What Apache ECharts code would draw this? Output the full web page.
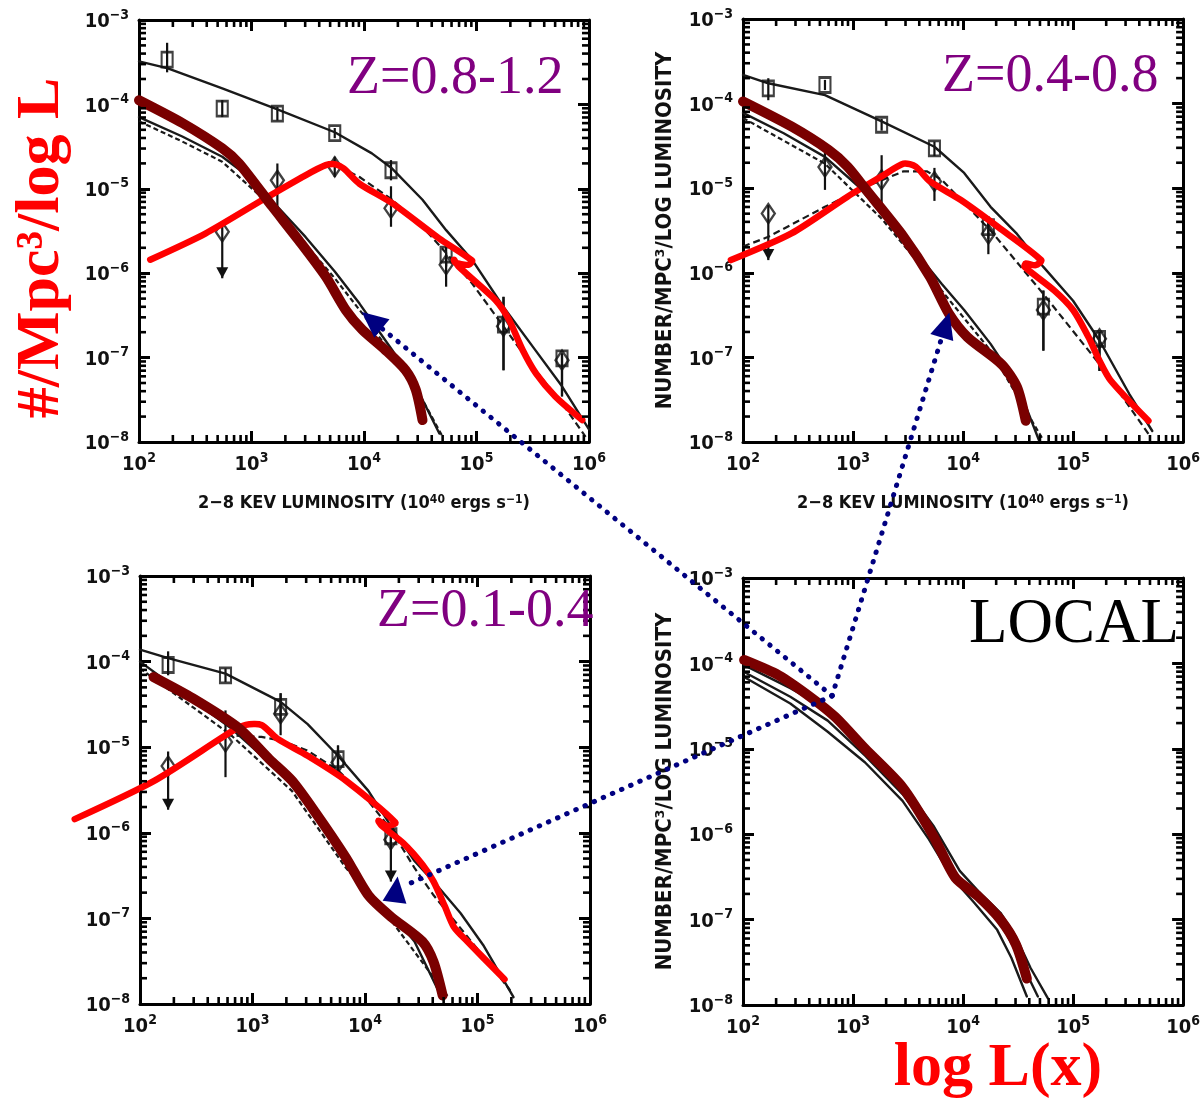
<!DOCTYPE html>
<html><head><meta charset="utf-8">
<script src="https://cdn.jsdelivr.net/npm/echarts@6/dist/echarts.min.js"></script>
<style>html,body{margin:0;padding:0;background:#fff}#c{width:1203px;height:1109px}</style>
</head><body><div id="c"></div><script>
// All values below are log10 of the plotted quantities (x: L in 1e40 erg/s, y: number/Mpc^3/log L)
const X_TICKS = [2, 3, 4, 5, 6];
const Y_TICKS = [-8, -7, -6, -5, -4, -3];
const PANEL_LABELS = ['Z=0.8-1.2', 'Z=0.4-0.8', 'Z=0.1-0.4', 'LOCAL'];
const X_NAME = '2\u22128 KEV LUMINOSITY (10{sup|40} ergs s{sup|\u22121})';
const Y_NAME = 'NUMBER/MPC\u00b3/LOG LUMINOSITY';

// ---- Panel 1 (z = 0.8-1.2) ----
const P1_UPPER = [[2.00,-3.49],[2.25,-3.57],[2.74,-3.81],[3.23,-4.06],[3.74,-4.33],[4.07,-4.58],[4.25,-4.76],[4.52,-5.13],[4.73,-5.49],[4.96,-5.84],[5.24,-6.40],[5.50,-6.87],[5.76,-7.34],[6.00,-7.85]];
const P1_LOWER = [[2.00,-4.15],[2.385,-4.38],[2.74,-4.62],[2.98,-4.86],[3.23,-5.21],[3.48,-5.57],[3.74,-5.98],[3.96,-6.36],[4.25,-6.91],[4.46,-7.34],[4.67,-7.90]];
const P1_LOWER2 = [[2.00,-4.20],[2.385,-4.44],[2.74,-4.68],[3.23,-5.27],[3.74,-6.06],[4.01,-6.52],[4.25,-6.97],[4.52,-7.50],[4.70,-7.94]];
const P1_DASH = [[3.78,-4.74],[3.96,-4.86],[4.25,-5.13],[4.52,-5.45],[4.73,-5.76],[4.96,-6.12],[5.24,-6.63],[5.50,-7.11],[5.76,-7.54],[5.97,-7.94]];
const P1_THICK = [[2.00,-3.95],[2.385,-4.22],[2.74,-4.52],[2.89,-4.70],[3.185,-5.21],[3.42,-5.61],[3.66,-6.04],[3.84,-6.44],[3.985,-6.67],[4.19,-6.91],[4.37,-7.15],[4.46,-7.38],[4.52,-7.74]];
const P1_RED = [[2.10,-5.84],[2.59,-5.53],[3.10,-5.13],[3.48,-4.84],[3.66,-4.72],[3.75,-4.71],[3.82,-4.76],[3.96,-4.94],[4.25,-5.17],[4.67,-5.59],[4.96,-5.85],[4.93,-5.90],[4.81,-5.875],[4.80,-5.84],[4.84,-5.92],[5.17,-6.32],[5.29,-6.555],[5.41,-6.91],[5.53,-7.19],[5.70,-7.46],[5.94,-7.74]];
// [x, y, errLow, errHigh, upperLimit]
const P1_SQ = [[2.25,-3.47,-3.62,-3.27,0],[2.74,-4.05,-4.15,-3.95,0],[3.23,-4.11,-4.19,-4.03,0],[3.74,-4.34,-4.40,-4.28,0],[4.24,-4.78,-4.90,-4.66,0],[4.73,-5.78,-5.92,-5.66,0],[5.24,-6.61,-7.15,-6.28,0],[5.76,-7.01,-7.46,-6.95,0]];
const P1_DM = [[2.74,-5.51,-6.06,-5.40,1],[3.23,-4.90,-5.21,-4.70,0],[3.74,-4.74,-4.86,-4.62,0],[4.24,-5.23,-5.45,-4.97,0],[4.73,-5.90,-6.16,-5.76,0],[5.24,-6.63,-7.15,-6.28,0],[5.76,-7.03,-7.46,-6.95,0]];

// ---- Panel 2 (z = 0.4-0.8) ----
const P2_UPPER = [[2.00,-3.66],[2.23,-3.76],[2.745,-3.90],[3.26,-4.21],[3.74,-4.51],[4.01,-4.82],[4.25,-5.22],[4.49,-5.54],[4.73,-5.93],[5.00,-6.33],[5.24,-6.80],[5.51,-7.43],[5.72,-7.87]];
const P2_LOWER = [[2.00,-4.11],[2.37,-4.35],[2.745,-4.63],[3.05,-4.98],[3.26,-5.30],[3.53,-5.69],[3.805,-6.13],[4.01,-6.44],[4.25,-6.84],[4.49,-7.31],[4.69,-7.98]];
const P2_LOWER2 = [[2.00,-4.17],[2.745,-4.71],[3.26,-5.36],[3.805,-6.21],[4.25,-6.92],[4.73,-7.98]];
const P2_DASH = [[2.00,-5.69],[2.23,-5.575],[2.745,-5.22],[3.12,-4.98],[3.46,-4.80],[3.67,-4.80],[3.805,-4.90],[4.25,-5.50],[4.73,-6.25],[5.24,-7.08],[5.685,-7.905]];
const P2_THICK = [[2.00,-3.975],[2.44,-4.27],[2.78,-4.55],[2.95,-4.745],[3.12,-5.02],[3.46,-5.575],[3.70,-6.05],[3.87,-6.48],[4.04,-6.76],[4.35,-7.08],[4.49,-7.35],[4.57,-7.75]];
const P2_RED = [[1.89,-5.85],[2.44,-5.535],[2.95,-5.10],[3.26,-4.86],[3.46,-4.71],[3.57,-4.745],[3.70,-4.92],[3.98,-5.14],[4.32,-5.46],[4.71,-5.85],[4.66,-5.91],[4.57,-5.89],[4.56,-5.93],[4.83,-6.21],[5.00,-6.44],[5.14,-6.76],[5.24,-7.04],[5.34,-7.27],[5.685,-7.75]];
const P2_SQ = [[2.23,-3.82,-3.96,-3.70,0],[2.745,-3.78,-3.84,-3.72,0],[3.26,-4.25,-4.32,-4.18,0],[3.74,-4.53,-4.62,-4.45,0],[4.23,-5.46,-5.60,-5.33,0],[4.73,-6.40,-6.92,-6.21,0],[5.24,-6.78,-7.16,-6.70,0]];
const P2_DM = [[2.23,-5.30,-5.85,-5.20,1],[2.745,-4.75,-5.02,-4.55,0],[3.26,-4.90,-5.22,-4.61,0],[3.74,-4.92,-5.15,-4.76,0],[4.23,-5.54,-5.78,-5.35,0],[4.73,-6.44,-6.92,-6.21,0],[5.24,-6.78,-7.16,-6.70,0]];

// ---- Panel 3 (z = 0.1-0.4) ----
const P3_UPPER = [[2.00,-3.86],[2.25,-3.96],[2.76,-4.14],[3.25,-4.47],[3.49,-4.73],[3.76,-5.10],[4.03,-5.51],[4.23,-5.92],[4.44,-6.33],[4.61,-6.57],[4.85,-6.94],[5.05,-7.31],[5.32,-7.92]];
const P3_LOWER = [[2.00,-4.00],[2.30,-4.29],[2.81,-4.78],[3.15,-5.18],[3.35,-5.43],[3.66,-5.96],[3.83,-6.33],[4.03,-6.69],[4.23,-6.94],[4.44,-7.27],[4.68,-7.92]];
const P3_LOWER2 = [[2.00,-4.08],[2.81,-4.86],[3.35,-5.51],[3.83,-6.41],[4.23,-7.02],[4.74,-7.92]];
const P3_DASH = [[2.76,-4.86],[3.08,-4.88],[3.25,-4.92],[3.49,-5.04],[3.76,-5.27],[4.03,-5.63],[4.23,-5.96],[4.44,-6.41],[4.61,-6.73],[5.02,-7.39],[5.29,-7.84]];
const P3_THICK = [[2.12,-4.18],[2.47,-4.43],[2.88,-4.78],[3.15,-5.14],[3.35,-5.39],[3.555,-5.755],[3.83,-6.29],[4.03,-6.73],[4.23,-6.98],[4.51,-7.27],[4.61,-7.51],[4.69,-7.90]];
const P3_RED = [[1.42,-5.84],[2.13,-5.39],[2.81,-4.82],[2.94,-4.74],[3.08,-4.74],[3.22,-4.90],[3.49,-5.10],[3.83,-5.39],[4.27,-5.88],[4.20,-5.92],[4.12,-5.86],[4.15,-5.92],[4.34,-6.12],[4.51,-6.37],[4.61,-6.57],[4.71,-6.86],[4.79,-7.10],[4.91,-7.27],[5.24,-7.71]];
const P3_SQ = [[2.25,-4.04,-4.16,-3.88,0],[2.76,-4.16,-4.24,-4.08,0],[3.25,-4.53,-4.70,-4.37,0],[3.76,-5.14,-5.35,-4.98,0],[4.23,-6.04,-6.20,-5.90,0]];
const P3_DM = [[2.25,-5.22,-5.73,-5.05,1],[2.76,-4.94,-5.35,-4.57,0],[3.25,-4.61,-4.86,-4.37,0],[3.76,-5.18,-5.35,-4.98,0],[4.23,-6.08,-6.57,-5.95,1]];

// ---- Panel 4 (local) ----
const P4_A = [[2.01,-4.02],[2.43,-4.29],[2.84,-4.59],[3.11,-4.96],[3.45,-5.41],[3.73,-5.90],[3.97,-6.43],[4.14,-6.67],[4.34,-6.92],[4.48,-7.20],[4.615,-7.57],[4.77,-7.92]];
const P4_B = [[2.01,-4.10],[2.43,-4.39],[2.77,-4.67],[3.11,-5.08],[3.45,-5.53],[3.73,-6.02],[3.93,-6.47],[4.14,-6.76],[4.34,-7.04],[4.48,-7.37],[4.68,-7.90]];
const P4_C = [[2.01,-4.16],[2.43,-4.47],[2.77,-4.80],[3.11,-5.16],[3.45,-5.61],[3.69,-6.06],[3.90,-6.51],[4.10,-6.80],[4.31,-7.12],[4.44,-7.45],[4.58,-7.90]];
const P4_THICK = [[2.01,-3.96],[2.325,-4.14],[2.63,-4.41],[2.84,-4.63],[3.11,-5.00],[3.45,-5.45],[3.73,-6.02],[3.93,-6.51],[4.14,-6.73],[4.34,-7.00],[4.48,-7.29],[4.58,-7.69]];

// ---- Arrow annotations (data coords of the panel they touch) ----
const ARROW_HUB = [2.81, -4.38];          // in panel 4
const ARROW_TIPS = [[0, 3.98, -6.46], [1, 3.876, -6.47], [2, 4.29, -6.51]]; // [panel, x, y]
const ARROW_HEAD_DIRS = [null, null, [0.12, -1]]; // head orientation if not along the line

const GRIDS = [
  {left: 139, top: 20, width: 450, height: 422},
  {left: 743, top: 19, width: 450, height: 423},
  {left: 140, top: 576, width: 450, height: 428},
  {left: 743, top: 578, width: 452, height: 427}
];

const FONT = "'DejaVu Sans Condensed','DejaVu Sans',sans-serif";
const SERIF = "'Liberation Serif','DejaVu Serif',serif";
const XMIN = X_TICKS[0], XMAX = X_TICKS[X_TICKS.length - 1];
const YMIN = Y_TICKS[0], YMAX = Y_TICKS[Y_TICKS.length - 1];
function minorVals(a, b) { const out = []; for (let n = a; n < b; n++) for (let k = 2; k <= 9; k++) out.push(n + Math.log10(k)); return out; }
const XMINOR = minorVals(XMIN, XMAX);
const YMINOR = minorVals(YMIN, YMAX);
const RICH = {
  b: {fontSize: 20, fontFamily: FONT, fontWeight: 'bold', color: '#111', lineHeight: 24, verticalAlign: 'bottom'},
  s: {fontSize: 14, fontFamily: FONT, fontWeight: 'bold', color: '#111', lineHeight: 14, verticalAlign: 'top'}
};
const sup = v => (v < 0 ? '\u2212' + (-v) : '' + v);

const xAxes = [], yAxes = [];
GRIDS.forEach((gr, g) => {
  const xb = {type: 'value', gridIndex: g, min: XMIN, max: XMAX, interval: 1, splitLine: {show: false}};
  const yb = {type: 'value', gridIndex: g, min: YMIN, max: YMAX, interval: 1, splitLine: {show: false}};
  const line = {show: true, onZero: false, lineStyle: {color: '#000', width: 3}};
  const majT = {show: true, inside: true, length: 11, lineStyle: {color: '#000', width: 3}};
  xAxes.push(Object.assign({}, xb, {position: 'bottom', axisLine: line, axisTick: majT,
    axisLabel: {margin: 9, formatter: v => '{b|10}{s|' + sup(v) + '}', rich: RICH},
    name: g < 2 ? X_NAME : '', nameLocation: 'middle', nameGap: 52,
    nameTextStyle: {fontSize: 18, fontWeight: 'bold', fontFamily: FONT, color: '#111',
      rich: {sup: {fontSize: 12, fontWeight: 'bold', fontFamily: FONT, color: '#111', verticalAlign: 'top', lineHeight: 12}}}}));
  xAxes.push(Object.assign({}, xb, {position: 'top', axisLine: line, axisTick: majT, axisLabel: {show: false}}));
  yAxes.push(Object.assign({}, yb, {position: 'left', axisLine: line, axisTick: majT,
    axisLabel: {margin: 10, formatter: v => '{b|10}{s|' + sup(v) + '}', rich: RICH},
    name: (g === 1 || g === 3) ? Y_NAME : '', nameLocation: 'middle', nameRotate: 90, nameGap: 67,
    nameTextStyle: {fontSize: 22, fontWeight: 'bold', fontFamily: FONT, color: '#111'}}));
  yAxes.push(Object.assign({}, yb, {position: 'right', axisLine: line, axisTick: majT, axisLabel: {show: false}}));
});

const series = [];
const AX = g => ({xAxisIndex: 2 * g, yAxisIndex: 2 * g});
function addLine(g, data, color, width, opts) {
  series.push(Object.assign({type: 'line', data: data, symbol: 'none', showSymbol: false, silent: true,
    lineStyle: {color: color, width: width, cap: 'round', join: 'round'}}, AX(g), opts || {}));
}
// polyline drawn through the axes' scale, allowed to run past the frame (as in the original)
function addFreeLine(g, data, color, width, z) {
  series.push(Object.assign({type: 'custom', silent: true, z: z, clip: false, data: data, encode: {x: 0, y: 1},
    renderItem: (params, api) => {
      if (params.dataIndex !== 0) return null;
      const pts = data.map(p => api.coord(p));
      return {type: 'polyline', shape: {points: pts, smooth: 0.25},
        style: {stroke: color, lineWidth: width, fill: null, lineCap: 'round', lineJoin: 'round'}};
    }}, AX(g)));
}
function addMarkers(g, arr, symbol, size) {
  series.push(Object.assign({type: 'custom', silent: true, z: 3,
    data: arr.map(d => [d[0], d[2], d[3], d[4]]), encode: {x: 0, y: [1, 2]},
    renderItem: (params, api) => {
      const x = api.value(0), lo = api.value(1), hi = api.value(2), lim = api.value(3);
      const a = api.coord([x, hi]), b = api.coord([x, lo]);
      const ch = [{type: 'line', shape: {x1: a[0], y1: a[1], x2: b[0], y2: b[1]}, style: {stroke: '#111', lineWidth: 2.2}}];
      if (lim) ch.push({type: 'polygon', shape: {points: [[b[0] - 6, b[1] - 11], [b[0] + 6, b[1] - 11], [b[0], b[1]]]}, style: {fill: '#111'}});
      return {type: 'group', children: ch};
    }}, AX(g)));
  series.push(Object.assign({type: 'scatter', silent: true, z: 4,
    data: arr.map(d => [d[0], d[1]]), symbol: symbol, symbolSize: size,
    itemStyle: {color: 'rgba(0,0,0,0)', borderColor: '#111', borderWidth: 2.4}}, AX(g)));
}
// minor log ticks (2..9 of each decade) on all four sides of a frame, drawn through the axes
function addMinorTicks(g) {
  const len = 7, w = 2.6;
  series.push(Object.assign({type: 'custom', silent: true, z: 10, clip: false,
    data: XMINOR.map(v => [v, YMIN]), encode: {x: 0, y: 1},
    renderItem: (params, api) => {
      const v = api.value(0), a = api.coord([v, YMIN]), b = api.coord([v, YMAX]);
      return {type: 'group', children: [
        {type: 'rect', shape: {x: a[0] - w / 2, y: a[1] - len, width: w, height: len}, style: {fill: '#000'}},
        {type: 'rect', shape: {x: b[0] - w / 2, y: b[1], width: w, height: len}, style: {fill: '#000'}}]};
    }}, AX(g)));
  series.push(Object.assign({type: 'custom', silent: true, z: 10, clip: false,
    data: YMINOR.map(v => [XMIN, v]), encode: {x: 0, y: 1},
    renderItem: (params, api) => {
      const v = api.value(1), a = api.coord([XMIN, v]), b = api.coord([XMAX, v]);
      return {type: 'group', children: [
        {type: 'rect', shape: {x: a[0], y: a[1] - w / 2, width: len, height: w}, style: {fill: '#000'}},
        {type: 'rect', shape: {x: b[0] - len, y: b[1] - w / 2, width: len, height: w}, style: {fill: '#000'}}]};
    }}, AX(g)));
}

const DARK = '#7a0000', RED = '#ff0000', INK = '#1a1a1a';
const PANELS = [
  {upper: P1_UPPER, lower: P1_LOWER, lower2: P1_LOWER2, dash: P1_DASH, thick: P1_THICK, red: P1_RED, sq: P1_SQ, dm: P1_DM},
  {upper: P2_UPPER, lower: P2_LOWER, lower2: P2_LOWER2, dash: P2_DASH, thick: P2_THICK, red: P2_RED, sq: P2_SQ, dm: P2_DM},
  {upper: P3_UPPER, lower: P3_LOWER, lower2: P3_LOWER2, dash: P3_DASH, thick: P3_THICK, red: P3_RED, sq: P3_SQ, dm: P3_DM}
];
GRIDS.forEach((gr, g) => addMinorTicks(g));
PANELS.forEach((p, g) => {
  addLine(g, p.upper, INK, 2.4);
  addLine(g, p.lower, INK, 2.4);
  addLine(g, p.lower2, INK, 2.2, {lineStyle: {color: INK, width: 2.2, type: [5, 3]}});
  addLine(g, p.dash, INK, 2.2, {lineStyle: {color: INK, width: 2.2, type: [7, 4]}});
  addMarkers(g, p.sq, 'rect', [11, 15]);
  addMarkers(g, p.dm, 'diamond', [13, 19]);
  addFreeLine(g, p.red, RED, 6.5, 5);
  addFreeLine(g, p.thick, DARK, 10, 6);
});
addLine(3, P4_A, INK, 2.4);
addLine(3, P4_B, INK, 2.4);
addLine(3, P4_C, INK, 2.4);
addFreeLine(3, P4_THICK, DARK, 10, 6);

const chart = echarts.init(document.getElementById('c'), null, {renderer: 'canvas', width: 1203, height: 1109});
chart.setOption({
  backgroundColor: '#fff', animation: false,
  grid: GRIDS.map(g => Object.assign({containLabel: false}, g)),
  xAxis: xAxes, yAxis: yAxes, series: series
});

// annotations
const graphics = [];
function txt(text, x, y, font, fill, align, rot) {
  graphics.push({type: 'text', x: x, y: y, rotation: rot || 0, z: 20, silent: true,
    style: {text: text, font: font, fill: fill, align: align || 'left', verticalAlign: 'middle', textAlign: align || 'left', textVerticalAlign: 'middle'}});
}
txt(PANEL_LABELS[0], 347, 79, '54px ' + SERIF, '#800080');
txt(PANEL_LABELS[1], 942, 77, '54px ' + SERIF, '#800080');
txt(PANEL_LABELS[2], 377, 612, '54px ' + SERIF, '#800080');
txt(PANEL_LABELS[3], 969, 625, '63px ' + SERIF, '#000');
txt('#/Mpc\u00b3/log L', 42, 248, 'bold 62px ' + SERIF, '#ff0000', 'center', Math.PI / 2);
txt('log L(x)', 998, 1069, 'bold 62px ' + SERIF, '#ff0000', 'center');

const hub = chart.convertToPixel({xAxisIndex: 6, yAxisIndex: 6}, ARROW_HUB);
ARROW_TIPS.forEach((t, i) => {
  const tip = chart.convertToPixel({xAxisIndex: 2 * t[0], yAxisIndex: 2 * t[0]}, [t[1], t[2]]);
  const dx = tip[0] - hub[0], dy = tip[1] - hub[1], L = Math.hypot(dx, dy);
  let ux = dx / L, uy = dy / L;
  const hl = 26, hw = 12;
  const hd = ARROW_HEAD_DIRS[i];
  const end = hd ? [tip[0] + 10, tip[1] + 8] : [tip[0] - ux * hl, tip[1] - uy * hl];
  graphics.push({type: 'polyline', z: 18, silent: true, shape: {points: [hub, end]},
    style: {stroke: '#000080', lineWidth: 5, lineDash: [0.5, 9.5], lineCap: 'round', fill: null}});
  if (hd) { const n = Math.hypot(hd[0], hd[1]); ux = hd[0] / n; uy = hd[1] / n; }
  const bx = tip[0] - ux * hl, by = tip[1] - uy * hl;
  graphics.push({type: 'polygon', z: 19, silent: true,
    shape: {points: [tip, [bx - uy * hw, by + ux * hw], [bx + uy * hw, by - ux * hw]]}, style: {fill: '#000080'}});
});
chart.setOption({graphic: {elements: graphics}});
</script></body></html>
